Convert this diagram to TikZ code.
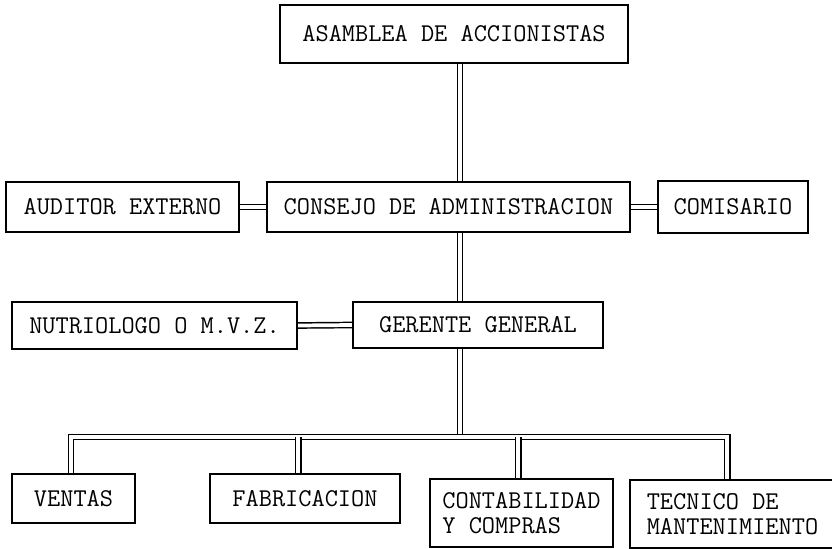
\documentclass[tikz,border=0pt]{standalone}
\usepackage{fontspec}
\usetikzlibrary{backgrounds}
\begin{document}
\begin{tikzpicture}[x=0.75pt,y=0.75pt,yscale=-1,xscale=1,
        box/.style = {draw, line width=1.2pt, inner sep=0pt, font=\ttfamily\addfontfeatures{FakeBold=2}\fontsize{19.2}{19}\selectfont},
        link/.style = {line width=1.1pt, double, double distance=2.8pt}]
    \useasboundingbox (0,0) rectangle (832,549);
    %top
    \node[box, minimum width=261pt, minimum height=43.5pt] (asamblea) at (454,34) {ASAMBLEA DE ACCIONISTAS};
    %consejo row
    \node[box, minimum width=174.75pt, minimum height=37.5pt] (auditor) at (122.5,207) {AUDITOR EXTERNO};
    \node[box, minimum width=272.25pt, minimum height=37.5pt] (consejo) at (448.5,207) {CONSEJO DE ADMINISTRACION};
    \node[box, minimum width=112.5pt, minimum height=39pt] (comisario) at (733,207) {COMISARIO};
    %gerente row
    \node[box, minimum width=213.75pt, minimum height=35.25pt] (nutriologo) at (154.5,325.5) {NUTRIOLOGO O M.V.Z.};
    \node[box, minimum width=187.5pt, minimum height=34.5pt] (gerente) at (478,325) {GERENTE GENERAL\hspace{12pt}};
    %departments
    \node[box, minimum width=92.25pt, minimum height=36.75pt] (ventas) at (73.5,498.5) {VENTAS\hspace{10pt}};
    \node[box, minimum width=142.5pt, minimum height=36.75pt] (fabricacion) at (305,498.5) {FABRICACION};
    \node[box, minimum width=137.25pt, minimum height=51pt, align=left] (contabilidad) at (521.5,513) {CONTABILIDAD\\Y COMPRAS};
    \node[box, minimum width=153.75pt, minimum height=51pt, align=left] (tecnico) at (732.5,514) {TECNICO DE\\MANTENIMIENTO};
    %
    \coordinate (trunk) at (460,0);
    \coordinate (bus) at (460,437);
    \coordinate (ventasdrop) at ([xshift=-2pt]ventas.north);
    \coordinate (fabdrop) at ([xshift=-5pt]fabricacion.north);
    \coordinate (contdrop) at ([xshift=-2.5pt]contabilidad.north);
    \coordinate (tecdrop) at ([xshift=-4pt]tecnico.north);
    %double lines
    \begin{scope}[on background layer]
        \draw[link] (asamblea.south -| trunk) -- (consejo.north -| trunk);
        \draw[link] (consejo.south -| trunk) -- (gerente.north -| trunk);
        \draw[link] (auditor.east) -- (consejo.west);
        \draw[link] (consejo.east) -- (comisario.west);
        \draw[link] (nutriologo.east) -- (gerente.west);
        \draw[link] (gerente.south -| trunk) -- (bus);
        \draw[link] (ventasdrop) |- (bus) -| (tecdrop);
        \draw[link] (fabdrop |- bus) -- (fabdrop);
        \draw[link] (contdrop |- bus) -- (contdrop);
    \end{scope}
\end{tikzpicture}
\end{document}
